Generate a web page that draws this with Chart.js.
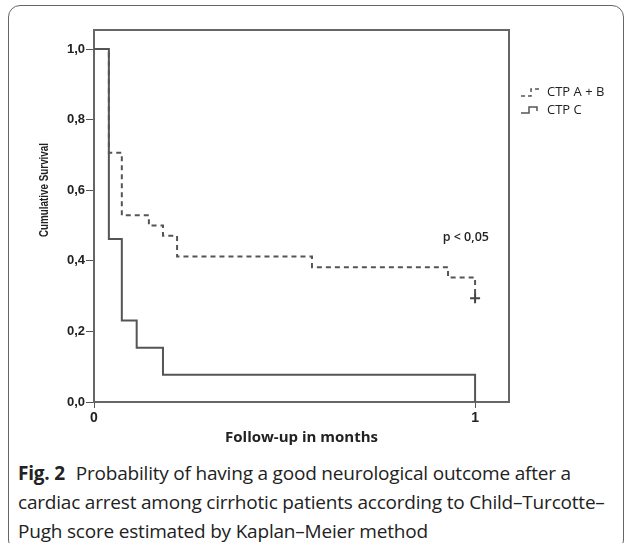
<!DOCTYPE html>
<html>
<head>
<meta charset="utf-8">
<script src="https://cdn.jsdelivr.net/npm/chart.js@4.4.1/dist/chart.umd.min.js"></script>
<style>
  html, body { margin: 0; padding: 0; background: #fff; }
  body { width: 629px; height: 543px; position: relative; overflow: hidden; }
  #frame { position: absolute; left: 8px; top: 5px; width: 614px; height: 545px; border: 1.5px solid #666; border-radius: 12px; }
  #wrap { position: absolute; left: 0; top: 0; width: 629px; height: 455px; }
  #caption { position: absolute; left: 18px; top: 459px; width: 610px; font-family: 'Open Sans', sans-serif; font-size: 19px; line-height: 29px; color: #222; white-space: nowrap; letter-spacing: -0.2px; }
  #caption b { font-weight: 700; margin-right: 6px; }
</style>
</head>
<body>
<div id="frame"></div>
<div id="wrap"><canvas id="kmChart" width="629" height="455"></canvas></div>
<div id="caption"><b>Fig. 2</b> Probability of having a good neurological outcome after a<br>cardiac arrest among cirrhotic patients according to Child–Turcotte–<br>Pugh score estimated by Kaplan–Meier method</div>
<script>
// values (months, cumulative survival)
const seriesNames = ['CTP A + B', 'CTP C'];
const abTimes = [0, 0.039, 0.073, 0.144, 0.181, 0.218, 0.572, 0.929, 1.0];
const abSurvival = [1, 0.706, 0.529, 0.5, 0.471, 0.412, 0.382, 0.353, 0.294];
const cTimes = [0, 0.039, 0.073, 0.112, 0.181, 1.0];
const cSurvival = [1, 0.462, 0.231, 0.154, 0.077, 0];
const censorTimes = [1.0];
const censorSurvival = [0.294];
const xTicks = [0, 1];
const yTicks = [0, 0.2, 0.4, 0.6, 0.8, 1.0];
const pText = 'p < 0,05';

const ctx = document.getElementById('kmChart');

function toPoints(xs, ys) {
    return xs.map((x, i) => ({ x: x, y: ys[i] }));
}

// frame, y title, legend and p-value
const kmExtras = {
    id: 'kmExtras',
    beforeDatasetsDraw(chart) {
        const c = chart.ctx;
        const a = chart.chartArea;
        c.save();
        c.strokeStyle = '#666';
        c.lineWidth = 2;
        c.strokeRect(a.left, a.top, a.right - a.left, a.bottom - a.top);
        c.restore();
    },
    afterDraw(chart) {
        const c = chart.ctx;
        const a = chart.chartArea;
        c.save();
        // y axis title, squeezed like the narrow SPSS font
        c.translate(45, 190);
        c.rotate(-Math.PI / 2);
        c.font = "bold 12px 'Liberation Sans Narrow', 'Liberation Sans', sans-serif";
        const w = c.measureText('Cumulative Survival').width;
        if (w > 94) c.scale(94 / w, 1);
        c.fillStyle = '#222';
        c.textAlign = 'center';
        c.textBaseline = 'middle';
        c.fillText('Cumulative Survival', 0, 0);
        c.restore();

        // legend
        c.save();
        const lx = a.right + 12;
        c.strokeStyle = '#555';
        c.lineWidth = 1.5;
        c.setLineDash([4, 3]);
        c.beginPath();
        c.moveTo(lx, 96); c.lineTo(lx + 10, 96); c.lineTo(lx + 10, 89); c.lineTo(lx + 19, 89);
        c.stroke();
        c.setLineDash([]);
        c.beginPath();
        c.moveTo(lx, 113); c.lineTo(lx + 8, 113); c.lineTo(lx + 8, 107); c.lineTo(lx + 16, 107); c.lineTo(lx + 16, 111);
        c.stroke();
        c.font = "13px 'Open Sans', sans-serif";
        c.fillStyle = '#222';
        c.textBaseline = 'middle';
        c.fillText(seriesNames[0], lx + 26, 92);
        c.fillText(seriesNames[1], lx + 26, 110);

        // p value
        c.font = "600 12.5px 'Open Sans', sans-serif";
        const px = chart.scales.x.getPixelForValue(0.915);
        const py = chart.scales.y.getPixelForValue(0.465);
        c.fillText(pText, px, py);
        c.restore();
    }
};

new Chart(ctx, {
    type: 'line',
    data: {
        datasets: [
            {
                label: seriesNames[0],
                data: toPoints(abTimes, abSurvival),
                stepped: true,
                borderColor: '#555',
                borderWidth: 2,
                borderDash: [5, 4],
                pointRadius: 0,
                fill: false
            },
            {
                label: seriesNames[1],
                data: toPoints(cTimes, cSurvival),
                stepped: true,
                borderColor: '#555',
                borderWidth: 2,
                pointRadius: 0,
                fill: false
            },
            {
                type: 'scatter',
                label: 'censored',
                data: toPoints(censorTimes, censorSurvival),
                pointStyle: 'cross',
                pointRadius: 5,
                borderColor: '#444',
                borderWidth: 2
            }
        ]
    },
    plugins: [kmExtras],
    options: {
        responsive: false,
        animation: false,
        devicePixelRatio: 1,
        layout: { padding: { top: 30, right: 120, left: 0, bottom: 0 } },
        plugins: { legend: { display: false }, tooltip: { enabled: false } },
        scales: {
            x: {
                type: 'linear',
                min: 0,
                max: 1.089,
                afterBuildTicks: (s) => { s.ticks = xTicks.map(v => ({ value: v })); },
                afterFit: (s) => { s.height = 53; },
                ticks: {
                    color: '#222',
                    padding: 2,
                    font: { family: "'Liberation Sans', sans-serif", size: 14, weight: 'bold' },
                    callback: (v) => String(v)
                },
                grid: { drawOnChartArea: false, tickLength: 6, color: '#555' },
                border: { display: true, color: '#666', width: 2 },
                title: {
                    display: true,
                    text: 'Follow-up in months',
                    color: '#222',
                    font: { family: "'Open Sans', sans-serif", size: 15, weight: 'bold' },
                    padding: { top: 0, bottom: 8 }
                }
            },
            y: {
                min: 0,
                max: 1.054,
                afterBuildTicks: (s) => { s.ticks = yTicks.map(v => ({ value: v })); },
                afterFit: (s) => { s.width = 94; },
                ticks: {
                    color: '#222',
                    padding: 1,
                    font: { family: "'Liberation Sans', sans-serif", size: 13, weight: 'bold' },
                    callback: (v) => v.toFixed(1).replace('.', ',')
                },
                grid: { drawOnChartArea: false, tickLength: 8, color: '#555' },
                border: { display: true, color: '#666', width: 2 }
            }
        }
    }
});
</script>
</body>
</html>
